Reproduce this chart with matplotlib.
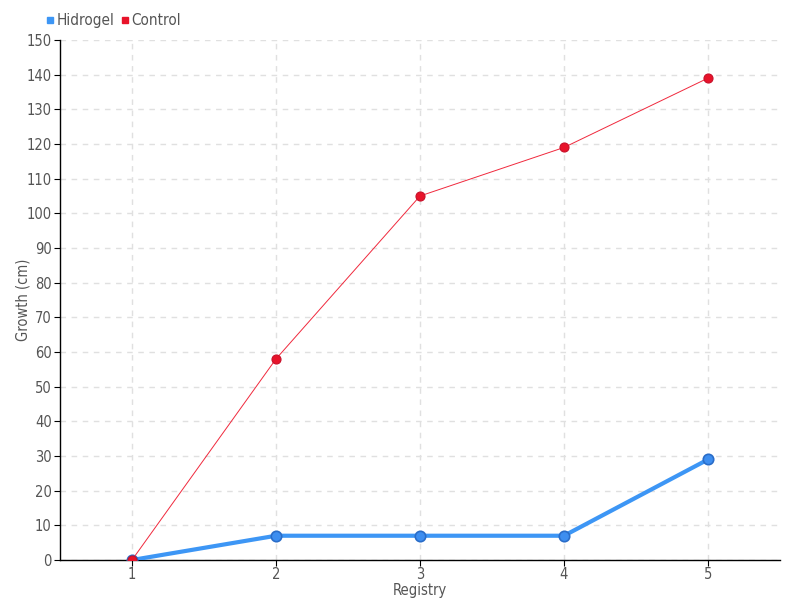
import matplotlib
matplotlib.use("Agg")
import matplotlib.pyplot as plt
from matplotlib.lines import Line2D

registry = [1, 2, 3, 4, 5]
hidrogel = [0, 7, 7, 7, 29]
control = [0, 58, 105, 119, 139]

plt.rcParams['font.family'] = ['DejaVu Sans']
plt.rcParams['font.stretch'] = 'condensed'
txt = '#555555'

fig = plt.figure(figsize=(8, 6), dpi=100)
ax = fig.add_axes([60/800, 40/600, 720/800, 520/600])

ax.plot(registry, hidrogel, color='#3d96f5', lw=3, marker='o', ms=7.5,
        markerfacecolor='#3d8ef0', markeredgecolor='#2a6dc8', markeredgewidth=1.2, zorder=3)
ax.plot(registry, control, color='#f0283c', lw=0.7, marker='o', ms=6.5,
        markerfacecolor='#e8132a', markeredgecolor='#c8102a', markeredgewidth=0.8, zorder=4)

ax.set_xlim(0.5, 5.5)
ax.set_ylim(0, 150)
ax.set_xticks(registry)
ax.set_yticks(range(0, 151, 10))
ax.grid(True, color='#e0e0e0', ls=(0, (4, 4)), lw=1)
ax.set_axisbelow(True)
for s in ['top', 'right']:
    ax.spines[s].set_visible(False)
for s in ['left', 'bottom']:
    ax.spines[s].set_color('black')
    ax.spines[s].set_linewidth(1)
ax.tick_params(axis='both', colors='black', labelcolor=txt, labelsize=10.5, length=4)
ax.tick_params(axis='x', pad=1)
ax.tick_params(axis='y', pad=2)
ax.set_xlabel('Registry', color=txt, fontsize=10.5, va='center')
ax.set_ylabel('Growth (cm)', color=txt, fontsize=10.5, va='center')
ax.yaxis.set_label_coords(-0.052, 0.5)
ax.xaxis.set_label_coords(0.5, -0.058)

handles = [Line2D([], [], ls='none', marker='s', ms=5, color='#3d96f5'),
           Line2D([], [], ls='none', marker='s', ms=5, color='#e8132a')]
fig.legend(handles, ['Hidrogel', 'Control'], loc='upper left', bbox_to_anchor=(46/800, 1-13/600),
           ncol=2, frameon=False, handlelength=0.5, handletextpad=0.2, columnspacing=0.4,
           labelcolor=txt, fontsize=11, borderaxespad=0, borderpad=0)

fig.savefig('out.png', dpi=100)
